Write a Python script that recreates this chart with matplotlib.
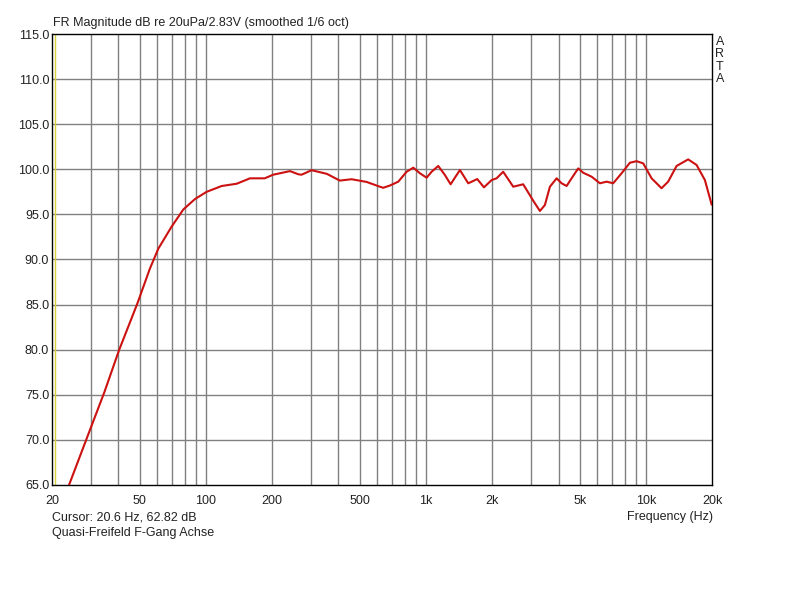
import matplotlib
matplotlib.use("Agg")
import matplotlib.pyplot as plt
import numpy as np

# frequency response (Hz, dB)
freq = [23.9, 28.9, 34.6, 40.4, 48.8, 55.7, 60.8, 69.9, 79, 89.2, 100.7, 118,
        138, 158.6, 185, 202, 241, 263, 272, 302, 354, 406, 459, 537, 617, 639,
        685, 748, 816, 875, 938, 1006, 1060, 1136, 1218, 1293, 1425, 1555, 1708,
        1833, 1986, 2091, 2241, 2489, 2762, 3090, 3290, 3466, 3653, 3918, 4128,
        4350, 4583, 4911, 5174, 5650, 6163, 6609, 7080, 7730, 8434, 9043, 9690,
        10580, 11740, 12580, 13740, 15510, 16940, 18480, 19820]
spl = [65.0, 70.3, 75.3, 80.0, 85.1, 89.0, 91.2, 93.65, 95.55, 96.7, 97.5, 98.15,
       98.4, 99.0, 99.0, 99.4, 99.8, 99.45, 99.4, 99.9, 99.5, 98.75, 98.9, 98.6,
       98.07, 97.95, 98.2, 98.63, 99.73, 100.18, 99.56, 99.07, 99.73, 100.37,
       99.37, 98.34, 99.92, 98.45, 98.92, 98.0, 98.81, 99.0, 99.73, 98.07, 98.34,
       96.4, 95.38, 96.04, 98.07, 99.0, 98.45, 98.15, 99.0, 100.1, 99.62, 99.18,
       98.45, 98.63, 98.45, 99.56, 100.73, 100.9, 100.66, 99.0, 97.9, 98.63,
       100.37, 101.1, 100.48, 98.8, 96.1]

xticks = [20, 50, 100, 200, 500, 1000, 2000, 5000, 10000, 20000]
xticklabels = ["20", "50", "100", "200", "500", "1k", "2k", "5k", "10k", "20k"]
xgrid = [30, 40, 50, 60, 70, 80, 90, 100, 200, 300, 400, 500, 600, 700, 800, 900,
         1000, 2000, 3000, 4000, 5000, 6000, 7000, 8000, 9000, 10000]
yticks = np.arange(65, 115.1, 5)
cursor_hz = 20.6

plt.rcParams['font.family'] = ['Liberation Sans', 'DejaVu Sans']
plt.rcParams['font.size'] = 9

fig = plt.figure(figsize=(8, 6), dpi=100)
ax = fig.add_axes([0.065, 0.1917, 0.8256, 0.7516])

ax.set_xscale('log')
ax.set_xlim(20, 20000)
ax.set_ylim(65, 115)

for g in xgrid:
    ax.axvline(g, color='#808080', lw=1.0, zorder=1)
for y in yticks[1:-1]:
    ax.axhline(y, color='#808080', lw=1.0, zorder=1)
ax.axvline(cursor_hz, color='#d8d040', lw=1.0, zorder=2)

ax.plot(freq, spl, color='#cc1111', lw=1.5, zorder=3, solid_joinstyle='round')

ax.set_xticks(xticks)
ax.set_xticklabels(xticklabels)
ax.xaxis.set_minor_locator(matplotlib.ticker.NullLocator())
ax.set_yticks(yticks)
ax.set_yticklabels([f"{v:.1f}" for v in yticks])
ax.tick_params(axis='x', length=0, pad=7, colors='#222222')
ax.tick_params(axis='y', length=0, pad=2, colors='#222222')
for s in ax.spines.values():
    s.set_color('black')
    s.set_linewidth(1.0)

fig.text(0.066, 0.962, "FR Magnitude dB re 20uPa/2.83V (smoothed 1/6 oct)",
         fontsize=9, ha='left', va='center', color='#222222')
for i, ch in enumerate("ARTA"):
    fig.text(0.9, 0.93 - i * 0.0205, ch, fontsize=9, ha='center', va='center', color='#222222')
fig.text(0.065, 0.138, "Cursor: 20.6 Hz, 62.82 dB", fontsize=9, ha='left', va='center', color='#222222')
fig.text(0.065, 0.111, "Quasi-Freifeld F-Gang Achse", fontsize=9, ha='left', va='center', color='#222222')
fig.text(0.891, 0.138, "Frequency (Hz)", fontsize=9, ha='right', va='center', color='#222222')

fig.savefig("out.png", dpi=100, facecolor='white')
